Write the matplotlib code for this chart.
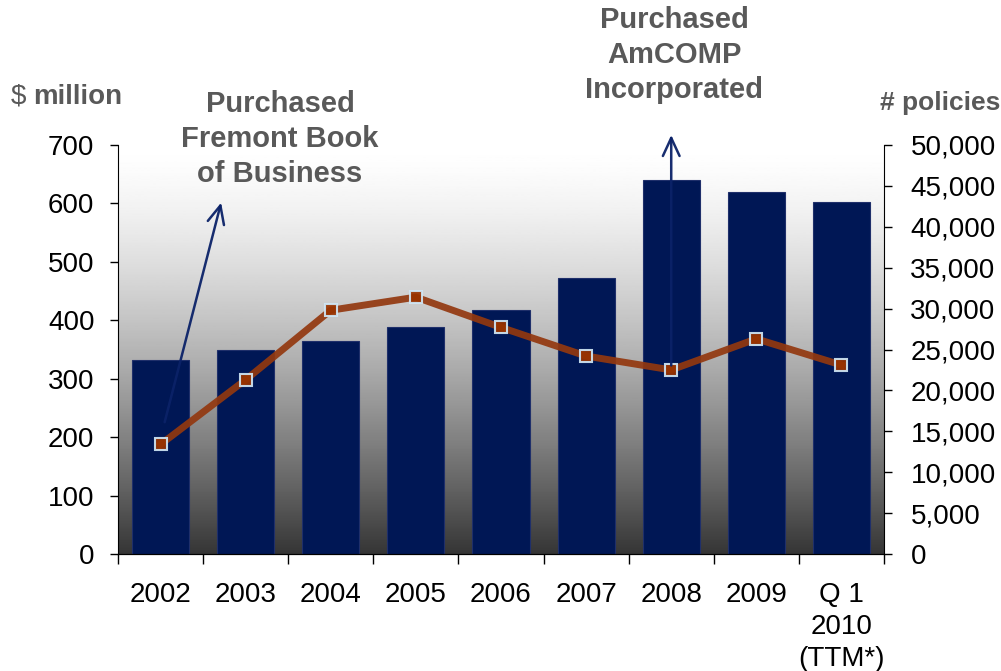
import numpy as np
import matplotlib
matplotlib.use("Agg")
import matplotlib.pyplot as plt

plt.rcParams['font.family'] = ['Liberation Sans', 'DejaVu Sans']

# data
categories = ["2002", "2003", "2004", "2005", "2006", "2007", "2008", "2009",
              "Q 1\n2010\n(TTM*)"]
premiums = [332, 350, 364, 388, 417, 472, 640, 619, 602]          # $ million
policies = [13400, 21300, 29800, 31400, 27700, 24200, 22500, 26300, 23100]
left_ticks = [0, 100, 200, 300, 400, 500, 600, 700]
right_ticks = [0, 5000, 10000, 15000, 20000, 25000, 30000, 35000, 40000, 45000, 50000]

navy = "#001755"
grey_text = "#595959"

fig = plt.figure(figsize=(10.01, 6.71), dpi=100)
ax = fig.add_axes([118 / 1001, 1 - 554 / 671, 766 / 1001, 409 / 671])
x = np.arange(len(categories))

# gradient background inside the plot area
t = np.linspace(0, 1, 256)[:, None]
shade = 1 - 0.79 * t ** 1.45
ax.imshow(shade, cmap="gray", vmin=0, vmax=1, aspect="auto",
          extent=(-0.5, len(categories) - 0.5, 0, 700), zorder=0)

ax.bar(x, premiums, width=0.67, color=navy, edgecolor="#1f2f6a",
       linewidth=0.8, zorder=2)
ax.set_xlim(-0.5, len(categories) - 0.5)
ax.set_ylim(0, 700)
ax.set_yticks(left_ticks)
ax.set_xticks(x)
ax.set_xticklabels(categories, fontsize=20, linespacing=1.3)
ax.set_xticks(np.arange(len(categories) + 1) - 0.5, minor=True)
ax.tick_params(axis="x", which="major", length=0, pad=20)
ax.tick_params(axis="x", which="minor", length=7, width=1, direction="out")
ax.tick_params(axis="y", length=6, width=1, direction="out", pad=11, labelsize=20)
for s in ["top", "right"]:
    ax.spines[s].set_visible(False)

ax2 = ax.twinx()
ax2.plot(x, policies, color="#93380f", lw=5, alpha=0.92, marker="s",
         markersize=8, markerfacecolor="#993300", markeredgecolor="#cfe6f5",
         markeredgewidth=1.5, zorder=3)
ax2.set_ylim(0, 50000)
ax2.set_yticks(right_ticks)
ax2.set_yticklabels([f"{v:,}" for v in right_ticks])
ax2.tick_params(axis="y", length=6, width=1, direction="out", pad=13, labelsize=20)
ax2.spines["top"].set_visible(False)
ax2.spines["left"].set_visible(False)

# axis titles
fig.text(11 / 1001, 1 - 97 / 671, "$", fontsize=20, color=grey_text,
         ha="left", va="center")
fig.text(33 / 1001, 1 - 97 / 671, "million", fontsize=20, color=grey_text,
         fontweight="bold", ha="left", va="center")
fig.text(1000 / 1001, 1 - 103 / 671, "# policies", fontsize=19, color=grey_text,
         fontweight="bold", ha="right", va="center")

# acquisition notes
fig.text(280 / 1001, 1 - 139 / 671, "Purchased\nFremont Book\nof Business",
         fontsize=21, color=grey_text, fontweight="bold", ha="center",
         va="center", linespacing=1.3)
fig.text(674 / 1001, 1 - 55 / 671, "Purchased\nAmCOMP\nIncorporated",
         fontsize=21, color=grey_text, fontweight="bold", ha="center",
         va="center", linespacing=1.3)

arrow = dict(arrowstyle="->,head_length=1.3,head_width=0.6", color="#0b2268",
             lw=1.8, alpha=0.95)
ax2.annotate("", xy=(0.72, 606), xytext=(0.04, 221), xycoords=ax.transData,
             textcoords=ax.transData, arrowprops=arrow,
             annotation_clip=False, zorder=5)
ax2.annotate("", xy=(6, 722), xytext=(6, 318), xycoords=ax.transData,
             textcoords=ax.transData, arrowprops=arrow,
             annotation_clip=False, zorder=5)

fig.savefig("out.png", dpi=100)
